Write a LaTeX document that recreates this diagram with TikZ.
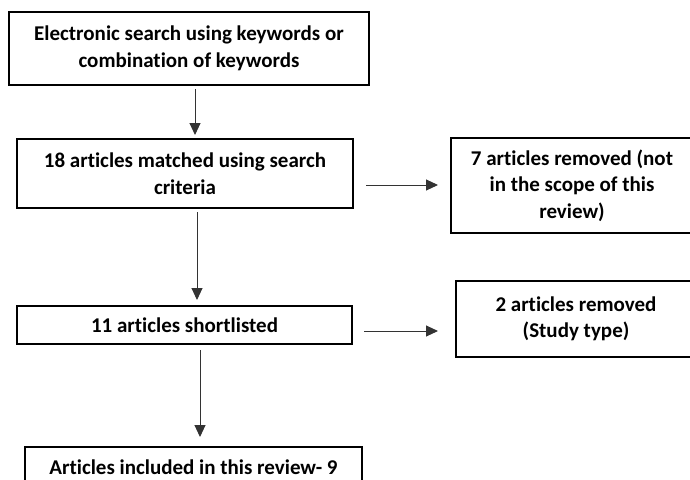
\documentclass[tikz,border=0pt]{standalone}
\usepackage{fontspec}
\setmainfont{Carlito}[Ligatures={NoCommon}]
\usetikzlibrary{arrows.meta}
\begin{document}
\begin{tikzpicture}[x=1pt,y=-1pt,
  box/.style={draw=black, line width=2pt, align=center, inner sep=0pt,
    font=\fontsize{21}{26.5}\selectfont\bfseries},
  arr/.style={draw=black!80, line width=1pt, -{Triangle[length=12pt,width=11pt]}}]
\useasboundingbox (0,0) rectangle (690,479);
\clip (0,0) rectangle (690,479);
\node[box, minimum width=360pt, minimum height=73pt] (b1) at (189,48.5)
  {Electronic search using keywords or\\combination of keywords};
\node[box, minimum width=336pt, minimum height=69pt] (b2) at (185,173.5)
  {18 articles matched using search\\criteria};
\node[box, minimum width=242pt, minimum height=95pt] (b3) at (572,185.5)
  {7 articles removed (not\\in the scope of this\\review)};
\node[box, minimum width=335pt, minimum height=38pt] (b4) at (184.5,325)
  {11 articles shortlisted};
\node[box, minimum width=240pt, minimum height=76pt] (b5) at (576,319)
  {2 articles removed\\(Study type)};
\node[box, minimum width=337pt, minimum height=40pt] (b6) at (193.5,467)
  {Articles included in this review- 9};
\draw[arr, shorten <=3pt, shorten >=3pt] ([xshift=6pt]b1.south) -- ([xshift=6pt]b1.south |- b2.north);
\draw[arr, shorten <=3pt, shorten >=5pt] ([xshift=12pt]b2.south) -- ([xshift=12pt]b2.south |- b4.north);
\draw[arr, shorten <=5pt, shorten >=9pt] ([xshift=15.5pt]b4.south) -- ([xshift=15.5pt]b4.south |- b6.north);
\draw[arr, shorten <=12pt, shorten >=12pt] ([yshift=-11.5pt]b2.east) -- ([yshift=-11.5pt]b2.east -| b3.west);
\draw[arr, shorten <=11pt, shorten >=17pt] ([yshift=-6pt]b4.east) -- ([yshift=-6pt]b4.east -| b5.west);
\end{tikzpicture}
\end{document}
